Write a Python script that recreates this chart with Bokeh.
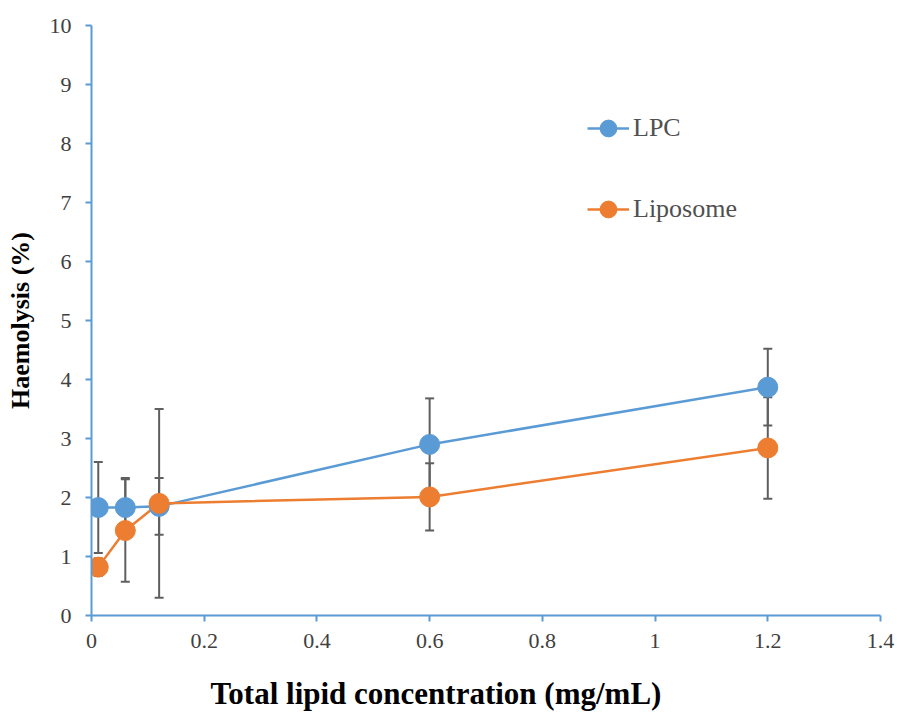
from bokeh.plotting import figure
from bokeh.models import Range1d, Legend, LegendItem, FixedTicker, Title
from bokeh.embed import file_html
from bokeh.resources import INLINE

# Data
conc = [0.012, 0.06, 0.12, 0.6, 1.2]
lpc = [1.83, 1.83, 1.85, 2.90, 3.87]
lpc_err = [0.77, 0.50, 0.48, 0.78, 0.65]
lipo = [0.82, 1.44, 1.90, 2.01, 2.84]
lipo_err = [0.15, 0.87, 1.60, 0.57, 0.86]

x_ticks = [0, 0.2, 0.4, 0.6, 0.8, 1.0, 1.2, 1.4]
x_tick_labels = {0: "0", 0.2: "0.2", 0.4: "0.4", 0.6: "0.6", 0.8: "0.8", 1.0: "1", 1.2: "1.2", 1.4: "1.4"}
y_ticks = list(range(0, 11))
x_title = "Total lipid concentration (mg/mL)"
y_title = "Haemolysis (%)"

BLUE = "#5B9BD5"
ORANGE = "#ED7D31"
ERR = "#5f5f5f"
AXIS = "#5B9BD5"
FONT = "Liberation Serif"

p = figure(frame_width=789, frame_height=590, output_backend="svg", toolbar_location=None,
           x_range=Range1d(0, 1.4), y_range=Range1d(0, 10))
p.min_border_left = 91
p.min_border_right = 17
p.min_border_top = 25
p.min_border_bottom = 101
p.outline_line_color = None
p.xgrid.visible = False
p.ygrid.visible = False
p.background_fill_color = "white"
p.border_fill_color = "white"

for ax in (p.xaxis[0], p.yaxis[0]):
    ax.axis_line_color = AXIS
    ax.axis_line_width = 2
    ax.major_tick_line_color = AXIS
    ax.major_tick_line_width = 2
    ax.major_tick_in = 0
    ax.major_tick_out = 6
    ax.minor_tick_line_color = None
    ax.major_label_text_font = FONT
    ax.major_label_text_font_size = "22px"
    ax.major_label_text_color = "#404040"
    ax.axis_label_text_font = FONT
    ax.axis_label_text_font_style = "bold"
    ax.axis_label_text_color = "#000000"

p.yaxis.axis_label_text_font_size = "26px"
p.xaxis.ticker = FixedTicker(ticks=x_ticks)
p.xaxis.major_label_overrides = x_tick_labels
p.yaxis.ticker = FixedTicker(ticks=y_ticks)
p.yaxis.axis_label = y_title
p.xaxis.major_label_standoff = 12
p.yaxis.major_label_standoff = 14
p.yaxis.axis_label_standoff = 12
# blank spacer label to push the x title down
p.xaxis.axis_label = " "
p.xaxis.axis_label_text_font_size = "12px"
p.xaxis.axis_label_standoff = 3

# x-axis title, centred on the whole chart as in the reference
xt = Title(text=x_title, align="left", offset=119, standoff=6,
           text_font=FONT, text_font_style="bold", text_font_size="31px",
           text_color="#000000")
p.add_layout(xt, "below")

# Error bars
for ys, es in ((lpc, lpc_err), (lipo, lipo_err)):
    lo = [y - e for y, e in zip(ys, es)]
    hi = [y + e for y, e in zip(ys, es)]
    p.segment(x0=conc, y0=lo, x1=conc, y1=hi, line_color=ERR, line_width=2)
    p.scatter(x=conc, y=lo, marker="dash", size=9, line_color=ERR, line_width=2)
    p.scatter(x=conc, y=hi, marker="dash", size=9, line_color=ERR, line_width=2)

l1 = p.line(conc, lpc, line_color=BLUE, line_width=2.5)
l2 = p.line(conc, lipo, line_color=ORANGE, line_width=2.5)
s1 = p.scatter(conc, lpc, size=20, fill_color=BLUE, line_color=BLUE)
s2 = p.scatter(conc, lipo, size=20, fill_color=ORANGE, line_color=ORANGE)

legend = Legend(items=[LegendItem(label="LPC", renderers=[l1, s1]),
                       LegendItem(label="Liposome", renderers=[l2, s2])],
                location=(496, 385))
legend.border_line_color = None
legend.background_fill_alpha = 0
legend.padding = 0
legend.margin = 0
legend.spacing = 39
legend.glyph_width = 42
legend.glyph_height = 42
legend.label_standoff = 4
legend.label_text_font = FONT
legend.label_text_font_size = "26px"
legend.label_text_color = "#505050"
legend.label_height = 42
p.add_layout(legend, "center")

open("out.html", "w").write(file_html(p, INLINE))
